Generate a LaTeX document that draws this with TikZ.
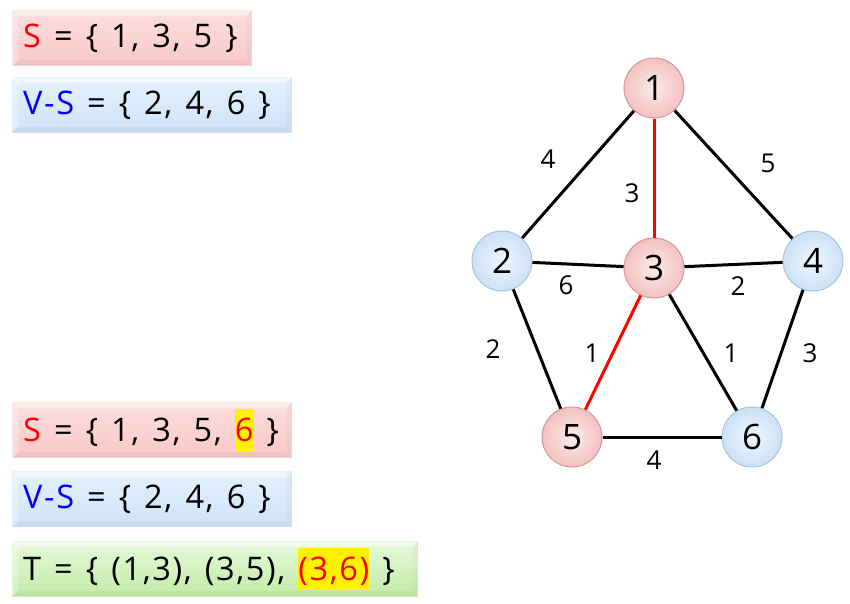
\documentclass[tikz,border=0pt]{standalone}
\usepackage{fontspec}
\setmainfont{Open Sans}
\newfontfamily\boxfont[LetterSpace=5,WordSpace=1.3]{Open Sans}
\usetikzlibrary{calc}
\definecolor{pinkA}{RGB}{252,222,222}
\definecolor{pinkB}{RGB}{250,200,200}
\definecolor{pinkE}{RGB}{245,220,220}
\definecolor{blueA}{RGB}{228,240,253}
\definecolor{blueB}{RGB}{207,227,247}
\definecolor{blueE}{RGB}{218,232,246}
\definecolor{greenA}{RGB}{230,249,218}
\definecolor{greenB}{RGB}{193,235,166}
\definecolor{greenE}{RGB}{215,240,200}
\definecolor{nodeRin}{RGB}{253,236,236}
\definecolor{nodeRout}{RGB}{243,192,192}
\definecolor{nodeRd}{RGB}{215,150,150}
\definecolor{nodeBin}{RGB}{238,246,254}
\definecolor{nodeBout}{RGB}{205,225,244}
\definecolor{nodeBd}{RGB}{160,198,228}
\newcommand{\hlt}[1]{{\setlength{\fboxsep}{0pt}\colorbox{yellow}{\rule[-0.3em]{0pt}{1.28em}\textcolor{red}{#1}}}}
\newcommand{\bevel}[1]{%
  \fill[white, opacity=0.45] (#1.north west) -- (#1.north east) -- ($(#1.north east)+(-6,6)$) -- ($(#1.north west)+(6,6)$) -- cycle;
  \fill[white, opacity=0.3] (#1.north west) -- ($(#1.north west)+(6,6)$) -- ($(#1.south west)+(6,-6)$) -- (#1.south west) -- cycle;
  \fill[black, opacity=0.025] (#1.north east) -- (#1.south east) -- ($(#1.south east)+(-6,-6)$) -- ($(#1.north east)+(-6,6)$) -- cycle;
  \fill[black, opacity=0.035] (#1.south west) -- (#1.south east) -- ($(#1.south east)+(-6,-6)$) -- ($(#1.south west)+(6,-6)$) -- cycle;}
\begin{document}
\begin{tikzpicture}[x=1pt,y=-1pt,
  setbox/.style={rectangle, anchor=north west, minimum height=55pt, inner sep=0pt, line width=1.2pt},
  pinkbox/.style={setbox, top color=pinkA, bottom color=pinkB, draw=pinkE},
  bluebox/.style={setbox, top color=blueA, bottom color=blueB, draw=blueE},
  greenbox/.style={setbox, top color=greenA, bottom color=greenB, draw=greenE},
  settext/.style={anchor=west, inner sep=0pt, font=\boxfont\fontsize{32.5}{36}\selectfont},
  vtx/.style={circle, minimum size=60pt, inner sep=0pt, line width=1pt, font=\fontsize{35}{35}\selectfont},
  vred/.style={vtx, inner color=nodeRin, outer color=nodeRout, draw=nodeRd},
  vblue/.style={vtx, inner color=nodeBin, outer color=nodeBout, draw=nodeBd},
  edge/.style={line width=3pt, black},
  tedge/.style={line width=3pt, red},
  wlabel/.style={inner sep=0pt, font=\fontsize{26}{26}\selectfont}
]
\useasboundingbox (0,0) rectangle (850,603);
% set boxes
\node[pinkbox, minimum width=239pt] (b1) at (12,10) {};
\bevel{b1}
\node[settext] (t1) at (23,38) {\textcolor{red}{S} = \{ 1, 3, 5 \}};
\node[bluebox, minimum width=279pt] (b2) at (12,77) {};
\bevel{b2}
\node[settext] (t2) at (23,105) {\textcolor{blue}{V-S} = \{ 2, 4, 6 \}};
\node[pinkbox, minimum width=279pt] (b3) at (12,402) {};
\bevel{b3}
\node[settext] (t3) at (23,430) {\textcolor{red}{S} = \{ 1, 3, 5, \hlt{6} \}};
\node[bluebox, minimum width=279pt] (b4) at (12,471) {};
\bevel{b4}
\node[settext] (t4) at (23,499) {\textcolor{blue}{V-S} = \{ 2, 4, 6 \}};
\node[greenbox, minimum width=405pt] (b5) at (12,541) {};
\bevel{b5}
\node[settext] (t5) at (23,569) {T = \{ (1,3), (3,5), \hlt{(3,6)} \}};
% graph vertices
\node[vred] (n1) at (654,88) {1};
\node[vblue] (n2) at (502,261) {2};
\node[vred] (n3) at (654,268) {3};
\node[vblue] (n4) at (813,261) {4};
\node[vred] (n5) at (572,437) {5};
\node[vblue] (n6) at (752,437) {6};
% edges
\draw[edge] (n1) -- (n2);
\draw[tedge] (n1) -- (n3);
\draw[edge] (n1) -- (n4);
\draw[edge] (n2) -- (n3);
\draw[edge] (n3) -- (n4);
\draw[edge] (n2) -- (n5);
\draw[tedge] (n3) -- (n5);
\draw[edge] (n3) -- (n6);
\draw[edge] (n4) -- (n6);
\draw[edge] (n5) -- (n6);
% weights
\node[wlabel] (w12) at (548,159) {4};
\node[wlabel] (w14) at (768,163) {5};
\node[wlabel] (w13) at (632,193) {3};
\node[wlabel] (w23) at (566,285) {6};
\node[wlabel] (w34) at (738,286) {2};
\node[wlabel] (w25) at (493,349) {2};
\node[wlabel] (w35) at (592,353) {1};
\node[wlabel] (w36) at (731,353) {1};
\node[wlabel] (w46) at (810,353) {3};
\node[wlabel] (w56) at (654,460) {4};
\end{tikzpicture}
\end{document}
